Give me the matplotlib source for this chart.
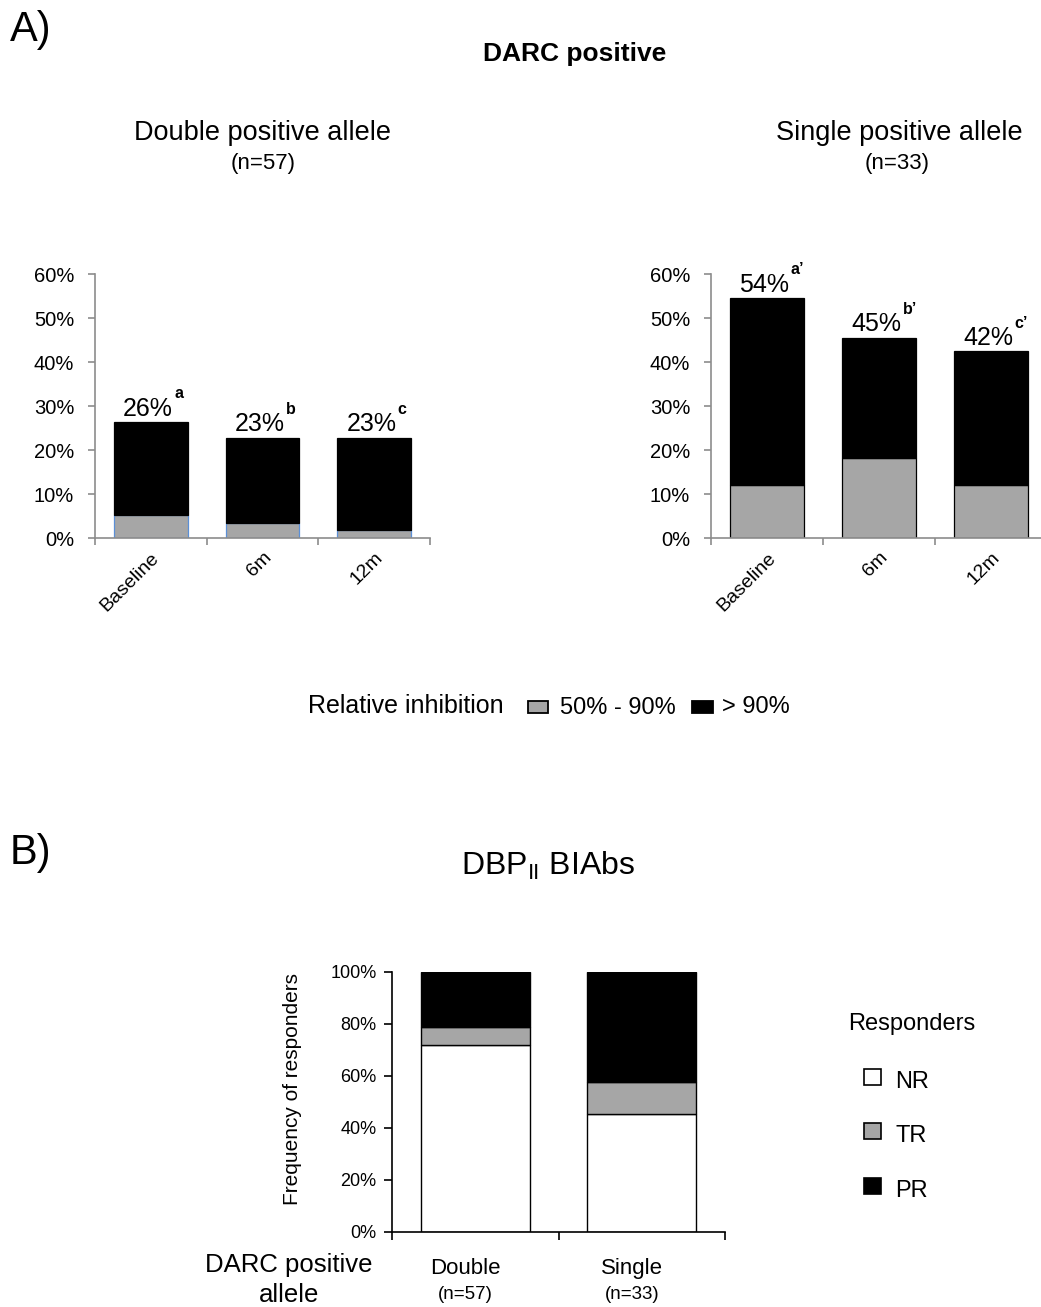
import matplotlib
matplotlib.use("Agg")
import matplotlib.pyplot as plt
from matplotlib.patches import Rectangle
import numpy as np

plt.rcParams['font.family'] = ['Liberation Sans', 'DejaVu Sans']

# ---------------- data ----------------
timepoints = ['Baseline', '6m', '12m']
double_mid = [5.3, 3.5, 1.8]       # 50% - 90% inhibition
double_high = [21.0, 19.3, 21.0]   # > 90% inhibition
double_labels = ['26%', '23%', '23%']
double_sup = ['a', 'b', 'c']

single_mid = [12.1, 18.2, 12.1]
single_high = [42.4, 27.3, 30.3]
single_labels = ['54%', '45%', '42%']
single_sup = ["a\u2019", "b\u2019", "c\u2019"]

groups = ['Double', 'Single']
group_n = ['(n=57)', '(n=33)']
nr = [71.9, 45.5]
tr = [7.0, 12.1]
pr = [21.1, 42.4]

W, H = 1041, 1307
fig = plt.figure(figsize=(W / 100, H / 100), dpi=100)


def ax_px(left, right, top, bottom):
    return fig.add_axes([left / W, 1 - bottom / H, (right - left) / W, (bottom - top) / H])


GRAY = '#a6a6a6'
SPINE = '#8c8c8c'


def style_axes(ax):
    for s in ['top', 'right']:
        ax.spines[s].set_visible(False)
    for s in ['left', 'bottom']:
        ax.spines[s].set_color(SPINE)
        ax.spines[s].set_linewidth(1.2)
    ax.tick_params(axis='both', colors=SPINE, labelcolor='black', direction='out', length=5, width=1.2)
    ax.tick_params(axis='y', pad=10)


def panel_a(ax, mid, high, labels, sups, gray_edge):
    x = np.arange(len(timepoints))
    ax.bar(x, mid, width=0.66, color=GRAY, edgecolor=gray_edge, linewidth=0.9)
    ax.bar(x, high, bottom=mid, width=0.66, color='black', edgecolor='black', linewidth=0.9)
    ax.set_xlim(-0.5, 2.5)
    ax.set_ylim(0, 60)
    ax.set_yticks(np.arange(0, 61, 10))
    ax.set_yticklabels([f'{v}%' for v in range(0, 61, 10)], fontsize=14.5)
    ax.set_xticks([-0.5, 0.5, 1.5, 2.5])
    ax.set_xticklabels([])
    ax.set_xticks(x, minor=True)
    ax.set_xticklabels(timepoints, minor=True, rotation=45, ha='right', va='top',
                       rotation_mode='anchor', fontsize=14)
    style_axes(ax)
    ax.tick_params(axis='x', which='minor', length=0, pad=8)
    for xi, m, h, lab, sup in zip(x, mid, high, labels, sups):
        tot = m + h
        ax.annotate(lab, (xi, tot), xytext=(-2, 1), textcoords='offset points',
                    ha='center', va='bottom', fontsize=18)
        ax.annotate(sup, (xi, tot), xytext=(17, 15), textcoords='offset points',
                    ha='left', va='bottom', fontsize=11.5, fontweight='bold')


axL = ax_px(95, 430, 274, 538)
panel_a(axL, double_mid, double_high, double_labels, double_sup, '#5b8fd6')
axR = ax_px(711, 1047, 274, 538)
panel_a(axR, single_mid, single_high, single_labels, single_sup, 'black')

# Panel A texts
fig.text(10 / W, 1 - 30 / H, 'A)', fontsize=30, va='center', ha='left')
fig.text(575 / W, 1 - 54 / H, 'DARC positive', fontsize=19, fontweight='bold', ha='center', va='center')
fig.text(263 / W, 1 - 133 / H, 'Double positive allele', fontsize=19.5, ha='center', va='center')
fig.text(263 / W, 1 - 163 / H, '(n=57)', fontsize=16, ha='center', va='center')
fig.text(899 / W, 1 - 133 / H, 'Single positive allele', fontsize=19.5, ha='center', va='center')
fig.text(897 / W, 1 - 163 / H, '(n=33)', fontsize=16, ha='center', va='center')

# Panel A legend
fig.text(308 / W, 1 - 706 / H, 'Relative inhibition', fontsize=18, ha='left', va='center')
fig.patches.append(Rectangle((528 / W, 1 - 713 / H), 20 / W, 12 / H, transform=fig.transFigure,
                             facecolor=GRAY, edgecolor='black', linewidth=1.3))
fig.text(560 / W, 1 - 708 / H, '50% - 90%', fontsize=17, ha='left', va='center')
fig.patches.append(Rectangle((692 / W, 1 - 713 / H), 21 / W, 12 / H, transform=fig.transFigure,
                             facecolor='black', edgecolor='black', linewidth=1.3))
fig.text(722 / W, 1 - 707 / H, '> 90%', fontsize=17, ha='left', va='center')

# ---------------- Panel B ----------------
axB = ax_px(392, 725, 972, 1232)
xb = np.arange(len(groups))
axB.bar(xb, nr, width=0.655, color='white', edgecolor='black', linewidth=1)
axB.bar(xb, tr, bottom=nr, width=0.655, color=GRAY, edgecolor='black', linewidth=1)
axB.bar(xb, pr, bottom=np.array(nr) + np.array(tr), width=0.655, color='black', edgecolor='black', linewidth=1)
axB.set_xlim(-0.5, 1.5)
axB.set_ylim(0, 100)
axB.set_yticks(np.arange(0, 101, 20))
axB.set_yticklabels([f'{v}%' for v in range(0, 101, 20)], fontsize=13)
axB.set_xticks([-0.5, 0.5, 1.5])
axB.set_xticklabels([])
for s in ['top', 'right']:
    axB.spines[s].set_visible(False)
for s in ['left', 'bottom']:
    axB.spines[s].set_color('black')
    axB.spines[s].set_linewidth(1.2)
axB.tick_params(axis='both', direction='out', length=6, width=1.2)
axB.tick_params(axis='y', pad=5)
axB.set_ylabel('Frequency of responders', fontsize=15)
axB.yaxis.set_label_coords(-0.27, 0.55)

for xi, g, n in zip(xb, groups, group_n):
    axB.annotate(g, (xi, 0), xycoords=('data', 'axes fraction'), xytext=(-7, -26),
                 textcoords='offset points', ha='center', va='center', fontsize=16)
    axB.annotate(n, (xi, 0), xycoords=('data', 'axes fraction'), xytext=(-7, -45),
                 textcoords='offset points', ha='center', va='center', fontsize=13.5)

fig.text(10 / W, 1 - 853 / H, 'B)', fontsize=30, va='center', ha='left')
fig.text(548 / W, 1 - 866 / H, r'DBP$_{\mathregular{II}}$ BIAbs', fontsize=23, ha='center', va='center')
fig.text(289 / W, 1 - 1265 / H, 'DARC positive', fontsize=18.5, ha='center', va='center')
fig.text(289 / W, 1 - 1295 / H, 'allele', fontsize=18.5, ha='center', va='center')

# Panel B legend
fig.text(912 / W, 1 - 1024 / H, 'Responders', fontsize=17, ha='center', va='center')
for ypix, col, lab in [(1077, 'white', 'NR'), (1131, GRAY, 'TR'), (1186, 'black', 'PR')]:
    fig.patches.append(Rectangle((864 / W, 1 - (ypix + 8) / H), 17 / W, 16 / H, transform=fig.transFigure,
                                 facecolor=col, edgecolor='black', linewidth=1.2))
    fig.text(895 / W, 1 - (ypix + 5) / H, lab, fontsize=17, ha='left', va='center')

fig.savefig('out.png', dpi=100)
